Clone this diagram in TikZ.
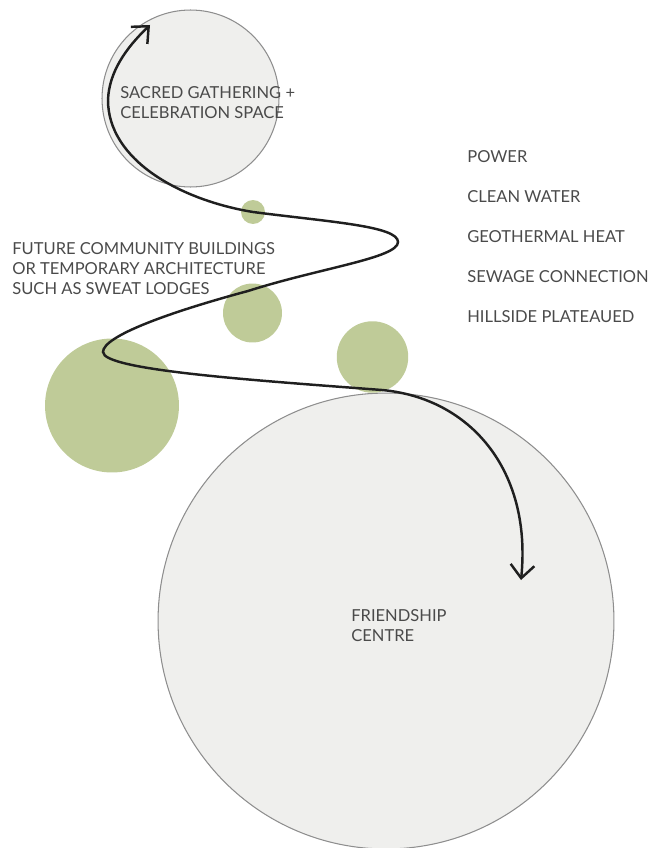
\documentclass[tikz,border=0pt]{standalone}
\usepackage{fontspec}
\setmainfont{Lato}
\usetikzlibrary{arrows.meta}
\definecolor{sitegreen}{HTML}{BFCB98}
\definecolor{sitegrey}{HTML}{EFEFED}
\definecolor{rimgrey}{HTML}{8E8E8E}
\definecolor{labelgrey}{HTML}{4A4A4A}

\begin{document}
\begin{tikzpicture}[
  x=0.02cm, y=-0.02cm,
  zone/.style     = {circle, draw=rimgrey, line width=0.6pt, fill=sitegrey, inner sep=0pt},
  pad/.style      = {circle, fill=sitegreen, inner sep=0pt},
  label/.style    = {anchor=west, align=left, inner sep=0pt, text=labelgrey,
                     font=\fontsize{9.4}{11.4}\selectfont},
  route/.style    = {{Straight Barb[length=7.5pt, width=13.5pt]}-{Straight Barb[length=7.5pt, width=13.5pt]},
                     line width=1.4pt, draw=black!88},
]
\useasboundingbox (0,0) rectangle (660,848);

%% ==================== ZONES ====================
\node[zone, minimum size=3.54cm] (sacred) at (190.5,98.5) {};
\node[zone, minimum size=9.12cm] (friend) at (386,621) {};

%% ==================== BUILDING PADS ====================
\node[pad, minimum size=0.48cm] (padtiny)  at (253,212) {};
\node[pad, minimum size=1.18cm] (padmid)   at (252.5,313) {};
\node[pad, minimum size=1.43cm] (padright) at (372.5,357) {};
\node[pad, minimum size=2.68cm] (padbig)   at (112,405.5) {};

%% ==================== LABELS ====================
\node[label] (sacredtxt) at (120,103) {SACRED GATHERING +\\CELEBRATION SPACE};
\node[label] (futuretxt) at (12,269)  {FUTURE COMMUNITY BUILDINGS\\OR TEMPORARY ARCHITECTURE\\SUCH AS SWEAT LODGES};
\node[label] (friendtxt) at (351,626) {FRIENDSHIP\\CENTRE};

\node[label] (power)  at (467,157) {POWER};
\node[label] (water)  at (467,197) {CLEAN WATER};
\node[label] (heat)   at (467,237) {GEOTHERMAL HEAT};
\node[label] (sewage) at (467,277) {SEWAGE CONNECTION};
\node[label] (hill)   at (467,317) {HILLSIDE PLATEAUED};

%% ==================== ROUTE ====================
\coordinate (top)  at (150,25);
\coordinate (r1)   at (108,100);
\coordinate (r2)   at (253,212);
\coordinate (r3)   at (398,242);
\coordinate (r4)   at (248,291);
\coordinate (r5)   at (103,352);
\coordinate (r6)   at (382,390);
\coordinate (tail) at (521,580);

\draw[route] (top) .. controls (126,48) and (109,72) .. (r1)
  .. controls (108,160) and (180,200) .. (r2)
  .. controls (330,222) and (398,226) .. (r3)
  .. controls (398,258) and (320,268) .. (r4)
  .. controls (170,312) and (103,336) .. (r5)
  .. controls (103,370) and (250,380) .. (r6)
  .. controls (470,398) and (532,470) .. (tail);

\end{tikzpicture}
\end{document}
